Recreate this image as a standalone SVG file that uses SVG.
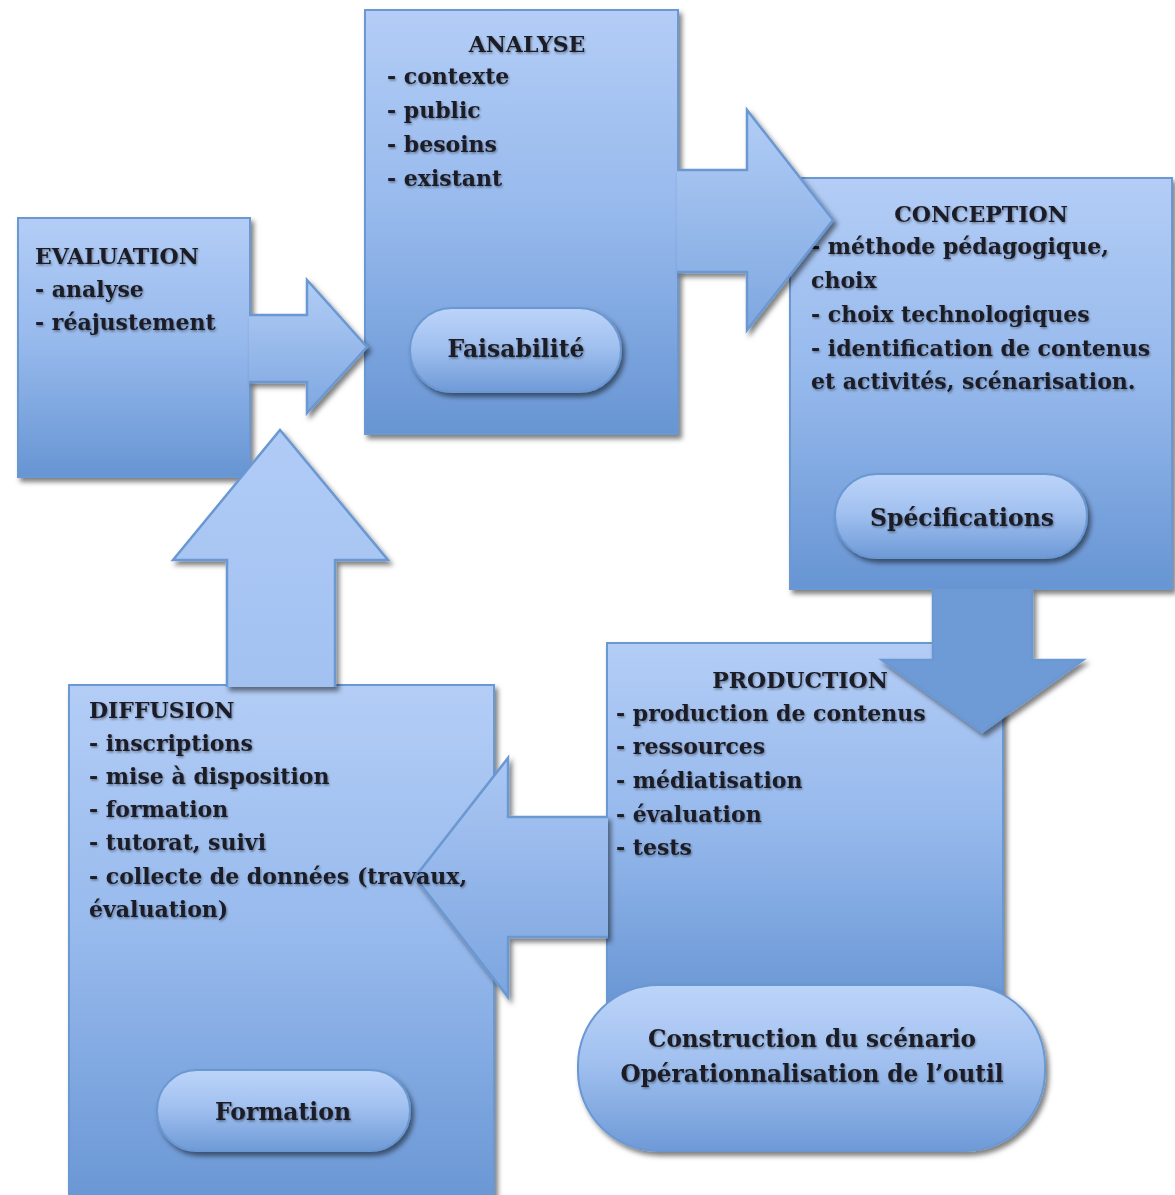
<svg xmlns="http://www.w3.org/2000/svg" width="1175" height="1195" viewBox="0 0 1175 1195">
<defs>
<linearGradient id="gBox" x1="0" y1="0" x2="0" y2="1">
<stop offset="0" stop-color="#b3cdf6"/>
<stop offset="0.5" stop-color="#95b8ec"/>
<stop offset="1" stop-color="#6795d3"/>
</linearGradient>
<linearGradient id="gPill" x1="0" y1="0" x2="0" y2="1">
<stop offset="0" stop-color="#bcd4f9"/>
<stop offset="0.45" stop-color="#a2c1f0"/>
<stop offset="1" stop-color="#6e9ad7"/>
</linearGradient>
<linearGradient id="gArrR" x1="0" y1="0" x2="0" y2="1">
<stop offset="0" stop-color="#b2cdf6"/>
<stop offset="1" stop-color="#7ea7e0"/>
</linearGradient>
<linearGradient id="gArrL" x1="0" y1="0" x2="0" y2="1">
<stop offset="0" stop-color="#abc7f4"/>
<stop offset="1" stop-color="#7ca5df"/>
</linearGradient>
<linearGradient id="gArrU" x1="0" y1="0" x2="0" y2="1">
<stop offset="0" stop-color="#b0cbf6"/>
<stop offset="1" stop-color="#a2c1f1"/>
</linearGradient>
<filter id="sh" x="-10%" y="-10%" width="125%" height="125%">
<feDropShadow dx="3" dy="4" stdDeviation="2.5" flood-color="#000" flood-opacity="0.5"/>
</filter>
<filter id="ts" x="-5%" y="-20%" width="115%" height="150%">
<feDropShadow dx="1" dy="1.5" stdDeviation="1.3" flood-color="#000" flood-opacity="0.4"/>
</filter>
</defs>
<style>
.box{fill:url(#gBox);stroke:#6b98d2;stroke-width:2;filter:url(#sh)}
.pill{fill:url(#gPill);stroke:#6b98d2;stroke-width:2;filter:url(#sh)}
.arr{stroke:#6b98d2;stroke-width:2.5;stroke-linejoin:miter;filter:url(#sh)}
text{font-family:"DejaVu Serif","Liberation Serif",serif;font-weight:bold;font-size:22px;fill:#1b1c26;filter:url(#ts)}
.c{text-anchor:middle}
.p{font-size:23.5px}
.big{font-size:25px}
</style>
<rect width="1175" height="1195" fill="#ffffff"/>

<g id="node-evaluation">
<rect class="box" x="18" y="218" width="232" height="259"/>
<text x="35" y="264">EVALUATION</text>
<text x="35" y="297">- analyse</text>
<text x="35" y="330">- réajustement</text>
</g>

<g id="node-analyse">
<rect class="box" x="365" y="10" width="313" height="424"/>
<text class="c" x="527" y="52">ANALYSE</text>
<text x="387" y="84">- contexte</text>
<text x="387" y="118">- public</text>
<text x="387" y="152">- besoins</text>
<text x="387" y="186">- existant</text>
</g>

<g id="node-conception">
<rect class="box" x="790" y="178" width="382" height="411"/>
<text class="c" x="981" y="222">CONCEPTION</text>
<text x="811" y="254">- méthode pédagogique,</text>
<text x="811" y="288">choix</text>
<text x="811" y="322">- choix technologiques</text>
<text x="811" y="356">- identification de contenus</text>
<text x="811" y="389">et activités, scénarisation.</text>
</g>

<g id="node-production">
<rect class="box" x="607" y="643" width="396" height="370"/>
<text class="c" x="800" y="688">PRODUCTION</text>
<text x="616" y="721">- production de contenus</text>
<text x="616" y="754">- ressources</text>
<text x="616" y="788">- médiatisation</text>
<text x="616" y="822">- évaluation</text>
<text x="616" y="855">- tests</text>
</g>

<g id="node-diffusion">
<rect class="box" x="69" y="685" width="425" height="530"/>
</g>

<g id="connectors">
<path id="arrow-diffusion-evaluation" class="arr" fill="url(#gArrU)" d="M227,687 L227,560 L173,560 L280,430 L388,560 L335,560 L335,687"/>
<path id="arrow-evaluation-analyse" class="arr" fill="url(#gArrR)" d="M249,315 L307,315 L307,280 L367,347 L307,413 L307,382 L249,382"/>
<path id="arrow-analyse-conception" class="arr" fill="url(#gArrR)" d="M677,170 L747,170 L747,110 L833,220 L747,330 L747,272 L677,272"/>
<path id="arrow-conception-production" class="arr" fill="#6e9ad6" d="M933,589 L933,660 L882,660 L982,732 L1083,660 L1032,660 L1032,589"/>
<path id="arrow-production-diffusion" class="arr" fill="url(#gArrL)" d="M608,817 L508,817 L508,758 L415,877 L508,997 L508,937 L608,937"/>
</g>

<g id="diffusion-label">
<text x="89" y="718">DIFFUSION</text>
<text x="89" y="751">- inscriptions</text>
<text x="89" y="784">- mise à disposition</text>
<text x="89" y="817">- formation</text>
<text x="89" y="850">- tutorat, suivi</text>
<text x="89" y="884">- collecte de données (travaux,</text>
<text x="89" y="917">évaluation)</text>
</g>

<g id="node-faisabilite">
<rect class="pill" x="410" y="308" width="211" height="84" rx="42"/>
<text class="c p" x="516" y="357">Faisabilité</text>
</g>

<g id="node-specifications">
<rect class="pill" x="835" y="474" width="252" height="84" rx="42"/>
<text class="c p" x="962" y="526">Spécifications</text>
</g>

<g id="node-construction">
<rect class="pill" x="578" y="985" width="467" height="166" rx="80" ry="80"/>
<text class="c big" x="812" y="1047" textLength="328" lengthAdjust="spacingAndGlyphs">Construction du scénario</text>
<text class="c big" x="812" y="1082" textLength="383" lengthAdjust="spacingAndGlyphs">Opérationnalisation de l’outil</text>
</g>

<g id="node-formation">
<rect class="pill" x="157" y="1070" width="253" height="81" rx="40"/>
<text class="c p" x="283" y="1120">Formation</text>
</g>
</svg>
